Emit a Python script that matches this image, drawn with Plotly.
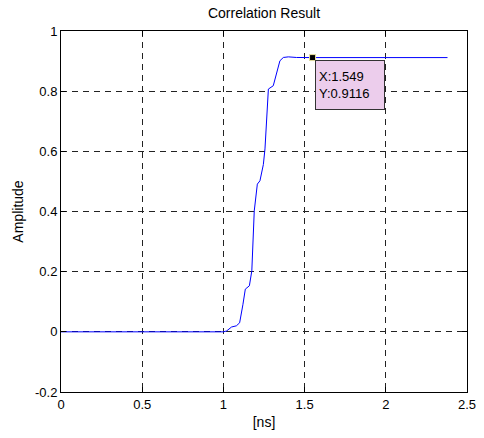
import plotly.graph_objects as go

# Data
time_ns = [0, 1.00, 1.02, 1.05, 1.08, 1.10, 1.12, 1.135, 1.16, 1.175, 1.19, 1.209, 1.225,
           1.246, 1.256, 1.277, 1.307, 1.33, 1.348, 1.369, 1.40, 1.45, 1.549, 2.38]
amplitude = [0, 0, 0.003, 0.016, 0.02, 0.03, 0.09, 0.142, 0.153, 0.203, 0.402, 0.491, 0.502,
             0.556, 0.608, 0.807, 0.818, 0.87, 0.901, 0.912, 0.914, 0.912, 0.9116, 0.9116]
x_ticks = [0, 0.5, 1, 1.5, 2, 2.5]
x_ticklabels = ["0", "0.5", "1", "1.5", "2", "2.5"]
y_ticks = [-0.2, 0, 0.2, 0.4, 0.6, 0.8, 1]
y_ticklabels = ["-0.2", "0", "0.2", "0.4", "0.6", "0.8", "1"]
tip_x = [1.549]
tip_y = [0.9116]

FONT = "Liberation Sans, Arial, sans-serif"

fig = go.Figure()
fig.add_trace(go.Scatter(x=time_ns, y=amplitude, mode="lines",
                         line=dict(color="#0000ff", width=1), showlegend=False))
fig.add_trace(go.Scatter(x=tip_x, y=tip_y, mode="markers",
                         marker=dict(symbol="square", size=6, color="black",
                                     line=dict(color="#e8e0a0", width=1)),
                         showlegend=False))

fig.add_annotation(x=tip_x[0], y=tip_y[0], xref="x", yref="y",
                   text=f"X:{tip_x[0]}<br>Y:{tip_y[0]}", showarrow=False,
                   xanchor="left", yanchor="top", align="left",
                   xshift=2, yshift=-2,
                   bgcolor="#eccdec", bordercolor="#333333", borderwidth=1,
                   borderpad=3, width=62, height=42,
                   font=dict(family=FONT, size=13, color="black"))

axis_common = dict(showline=True, linecolor="black", linewidth=1, mirror="ticks",
                   ticks="inside", ticklen=5, tickcolor="black",
                   showgrid=True, gridcolor="#222222", gridwidth=1, griddash="6px,5px",
                   zeroline=False, automargin=False,
                   tickfont=dict(family=FONT, size=13, color="black"))

fig.update_xaxes(range=[0, 2.5], tickvals=x_ticks, ticktext=x_ticklabels,
                 title=dict(text="[ns]", font=dict(family=FONT, size=14, color="black"),
                            standoff=6),
                 **axis_common)
fig.update_yaxes(range=[-0.2, 1], tickvals=y_ticks, ticktext=y_ticklabels,
                 title=dict(text="Amplitude", font=dict(family=FONT, size=14, color="black"),
                            standoff=8),
                 **axis_common)

fig.update_layout(
    width=484, height=438,
    margin=dict(l=61, r=17, t=31, b=46),
    paper_bgcolor="white", plot_bgcolor="white",
    title=dict(text="Correlation Result", x=(61 + 467) / 2 / 484, xanchor="center",
               y=0.970, yref="container", yanchor="middle",
               font=dict(family=FONT, size=14, color="black")),
)

fig.write_html("out.html")
